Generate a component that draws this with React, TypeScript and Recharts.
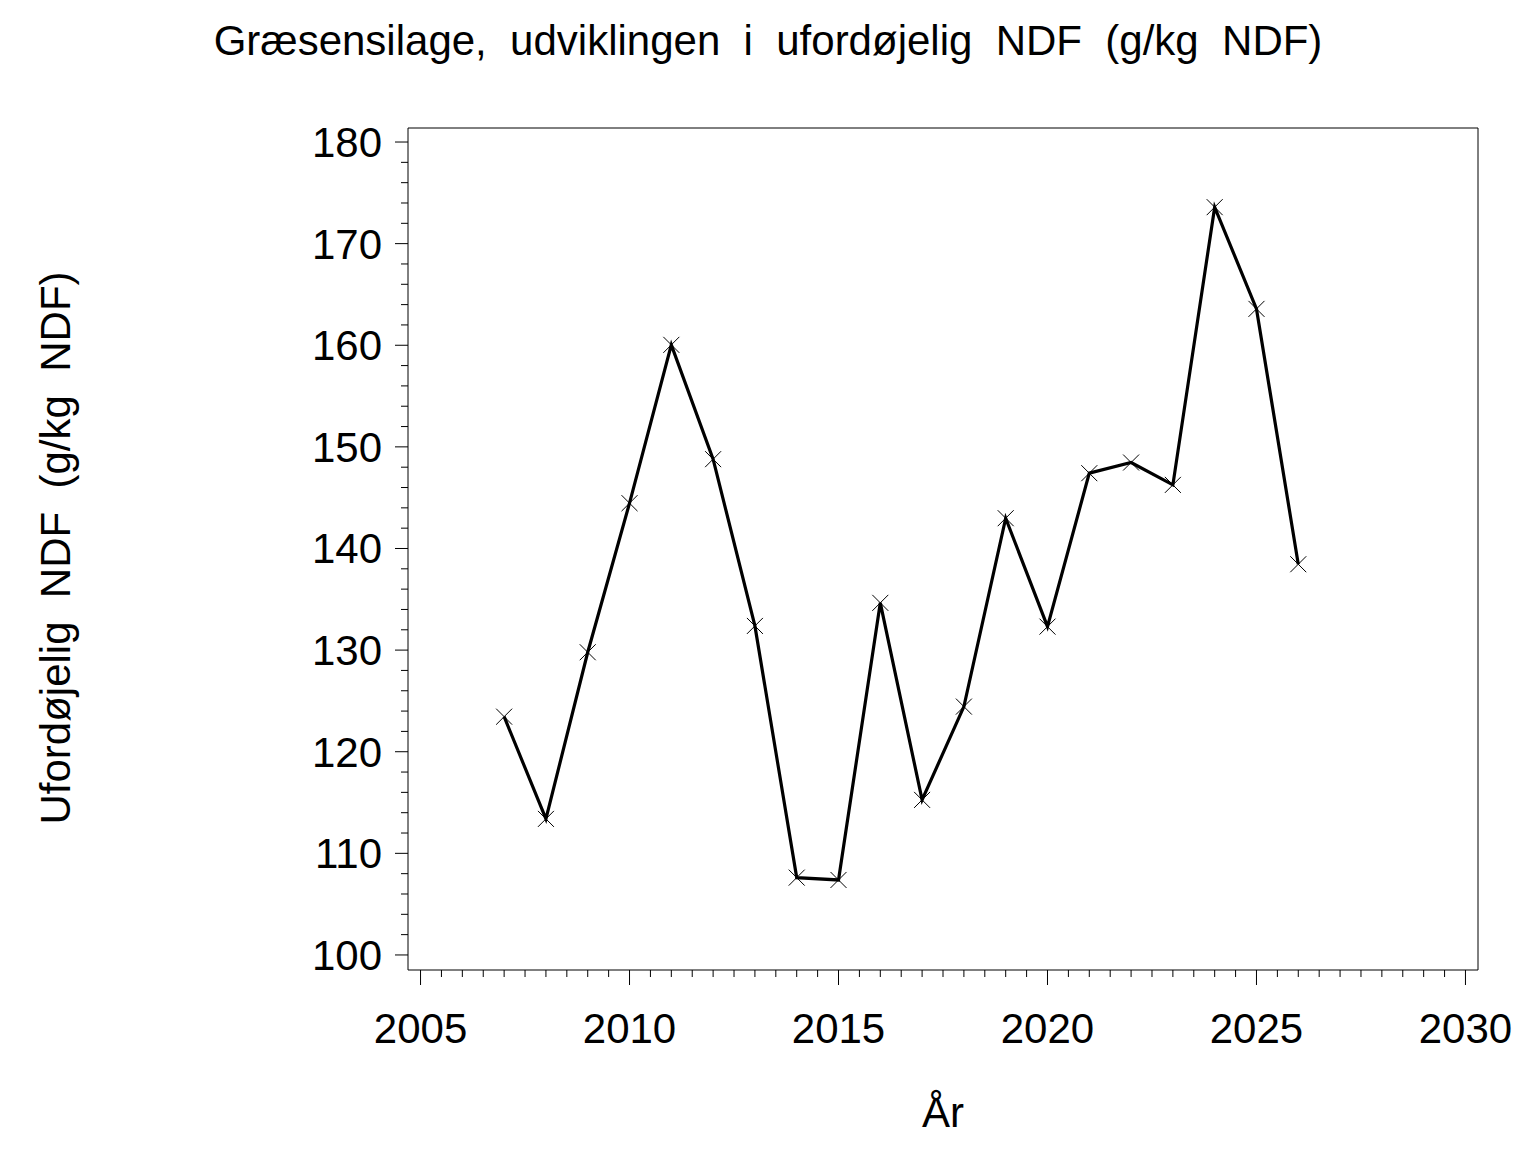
import React from 'react';
import { LineChart, Line, XAxis, YAxis, ReferenceLine } from 'recharts';

const years = [2007, 2008, 2009, 2010, 2011, 2012, 2013, 2014, 2015, 2016, 2017, 2018, 2019, 2020, 2021, 2022, 2023, 2024, 2025, 2026];
const values = [123.45, 113.39, 129.79, 144.46, 160.04, 148.79, 132.38, 107.61, 107.38, 134.65, 115.26, 124.44, 142.98, 132.31, 147.41, 148.46, 146.26, 173.59, 163.58, 138.45];

const xMajorTicks = [2005, 2010, 2015, 2020, 2025, 2030];
const yMajorTicks = [100, 110, 120, 130, 140, 150, 160, 170, 180];
const xMinorStep = 0.5;
const yMinorStep = 2;
const xDomain: [number, number] = [2004.7, 2030.3];
const yDomain: [number, number] = [98.52, 181.38];

const titleText = 'Græsensilage,  udviklingen  i  ufordøjelig  NDF  (g/kg  NDF)';
const xLabelText = 'År';
const yLabelText = 'Ufordøjelig  NDF  (g/kg  NDF)';

const FONT = '"Liberation Sans", Arial, Helvetica, sans-serif';

const data = years.map((year, i) => ({ year, value: values[i] }));

const makeTicks = (major: number[], step: number) => {
  const first = major[0];
  const last = major[major.length - 1];
  const n = Math.round((last - first) / step);
  return Array.from({ length: n + 1 }, (_, i) => first + i * step);
};
const xTicks = makeTicks(xMajorTicks, xMinorStep);
const yTicks = makeTicks(yMajorTicks, yMinorStep);

const XTick = (props: any) => {
  const { x, y, payload } = props;
  const major = xMajorTicks.includes(payload.value);
  return (
    <g>
      <line x1={x} y1={y} x2={x} y2={y + (major ? 15 : 7)} stroke="#000" strokeWidth={1} />
      {major && (
        <text x={x} y={y + 73} textAnchor="middle" fontSize={42} fontFamily={FONT} fill="#000">
          {payload.value}
        </text>
      )}
    </g>
  );
};

const YTick = (props: any) => {
  const { x, y, payload } = props;
  const major = yMajorTicks.includes(payload.value);
  return (
    <g>
      <line x1={x} y1={y} x2={x - (major ? 13 : 7)} y2={y} stroke="#000" strokeWidth={1} />
      {major && (
        <text x={x - 26} y={y} dy="0.355em" textAnchor="end" fontSize={42} fontFamily={FONT} fill="#000">
          {payload.value}
        </text>
      )}
    </g>
  );
};

const XMarker = (props: any) => {
  const { cx, cy, index } = props;
  if (cx == null || cy == null) return <g key={`m-${index}`} />;
  const s = 8;
  return (
    <g key={`m-${index}`}>
      <line x1={cx - s} y1={cy - s} x2={cx + s} y2={cy + s} stroke="#000" strokeWidth={1} />
      <line x1={cx - s} y1={cy + s} x2={cx + s} y2={cy - s} stroke="#000" strokeWidth={1} />
    </g>
  );
};

export default function App() {
  return (
    <div style={{ position: 'absolute', left: 0, top: 0, width: 1536, height: 1152, background: '#fff' }}>
      <LineChart
        width={1536}
        height={1152}
        data={data}
        margin={{ top: 128, right: 58, bottom: 82, left: 0 }}
      >
        <XAxis
          dataKey="year"
          type="number"
          domain={xDomain}
          ticks={xTicks}
          interval={0}
          tick={<XTick />}
          tickLine={false}
          tickSize={0}
          tickMargin={0}
          height={100}
          axisLine={{ stroke: '#000', strokeWidth: 1 }}
          allowDataOverflow
        />
        <YAxis
          type="number"
          domain={yDomain}
          ticks={yTicks}
          interval={0}
          tick={<YTick />}
          tickLine={false}
          tickSize={0}
          tickMargin={0}
          width={408}
          axisLine={{ stroke: '#000', strokeWidth: 1 }}
          allowDataOverflow
        />
        <ReferenceLine y={yDomain[1]} stroke="#000" strokeWidth={1} />
        <ReferenceLine x={xDomain[1]} stroke="#000" strokeWidth={1} />
        <Line
          type="linear"
          dataKey="value"
          stroke="#000"
          strokeWidth={3.2}
          dot={XMarker}
          activeDot={false}
          isAnimationActive={false}
        />
      </LineChart>
      <svg
        width={1536}
        height={1152}
        style={{ position: 'absolute', left: 0, top: 0, pointerEvents: 'none' }}
      >
        <text x={768} y={55} textAnchor="middle" fontSize={42} fontFamily={FONT} fill="#000" style={{ whiteSpace: 'pre' }}>
          {titleText}
        </text>
        <text x={943} y={1127} textAnchor="middle" fontSize={42} fontFamily={FONT} fill="#000" style={{ whiteSpace: 'pre' }}>
          {xLabelText}
        </text>
        <text
          x={70}
          y={548}
          textAnchor="middle"
          fontSize={42}
          fontFamily={FONT}
          fill="#000"
          transform="rotate(-90, 70, 548)"
          style={{ whiteSpace: 'pre' }}
        >
          {yLabelText}
        </text>
      </svg>
    </div>
  );
}
